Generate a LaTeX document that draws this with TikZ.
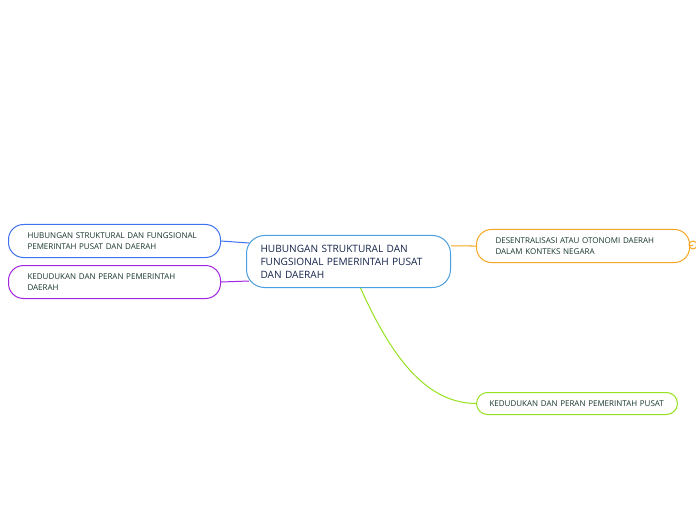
\documentclass[tikz,border=0pt]{standalone}
\usepackage{fontspec}
\setmainfont{Open Sans}
\usetikzlibrary{calc}
\definecolor{txt}{HTML}{17362C}
\definecolor{ctxt}{HTML}{15244A}
\definecolor{cblue}{HTML}{3F72EE}
\definecolor{cpurp}{HTML}{A226E0}
\definecolor{corg}{HTML}{F5A623}
\definecolor{cgrn}{HTML}{96E21E}
\definecolor{cctr}{HTML}{4A9FE0}
\tikzset{
  topic/.style={draw, rounded corners=15bp, line width=1bp, anchor=north west,
    inner xsep=19bp, inner ysep=0bp, align=left, text=txt,
    font=\fontsize{8bp}{11bp}\selectfont},
  central/.style={draw=cctr, rounded corners=18bp, line width=1bp, anchor=north west,
    inner xsep=14bp, inner ysep=0bp, align=left, text=ctxt,
    font=\fontsize{10.1bp}{13bp}\selectfont},
  link/.style={line width=1bp}
}
\begin{document}
\begin{tikzpicture}[x=1bp,y=-1bp]
\useasboundingbox (0,0) rectangle (696,520);
\fill[white] (0,0) rectangle (696,520);
\node[central, minimum width=204bp, minimum height=52bp, text width=176bp] (ctr) at (246,235)
  {HUBUNGAN STRUKTURAL DAN\\FUNGSIONAL PEMERINTAH PUSAT\\DAN DAERAH};
\node[topic, draw=cblue, minimum width=212bp, minimum height=33bp, text width=174bp] (hub) at (8,224)
  {HUBUNGAN STRUKTURAL DAN FUNGSIONAL\\PEMERINTAH PUSAT DAN DAERAH};
\node[topic, draw=cpurp, minimum width=212bp, minimum height=33bp, text width=174bp] (ked) at (8,265)
  {KEDUDUKAN DAN PERAN PEMERINTAH\\DAERAH};
\node[topic, draw=corg, minimum width=213bp, minimum height=33bp, text width=175bp] (des) at (476,229)
  {DESENTRALISASI ATAU OTONOMI DAERAH\\DALAM KONTEKS NEGARA};
\node[topic, draw=cgrn, rounded corners=11bp, inner xsep=13bp, minimum width=201bp, minimum height=22bp, text width=175bp] (pus) at (476,392)
  {KEDUDUKAN DAN PERAN PEMERINTAH PUSAT};
\coordinate (m1) at (693,245);
\draw[link, cblue] (hub.east) -- ($(ctr.north west)+(3,8)$);
\draw[link, cpurp] (ked.east) -- ($(ctr.south west)+(3,-7)$);
\draw[link, corg] ($(ctr.north east)+(0,11)$) -- (des.west);
\draw[link, cgrn] ([xshift=12bp]ctr.south) .. controls (395,365) and (430,403) .. (pus.west);
\draw[link, corg] (des.east) -- (m1);
\draw[link, corg] (m1) circle (4bp);
\end{tikzpicture}
\end{document}
